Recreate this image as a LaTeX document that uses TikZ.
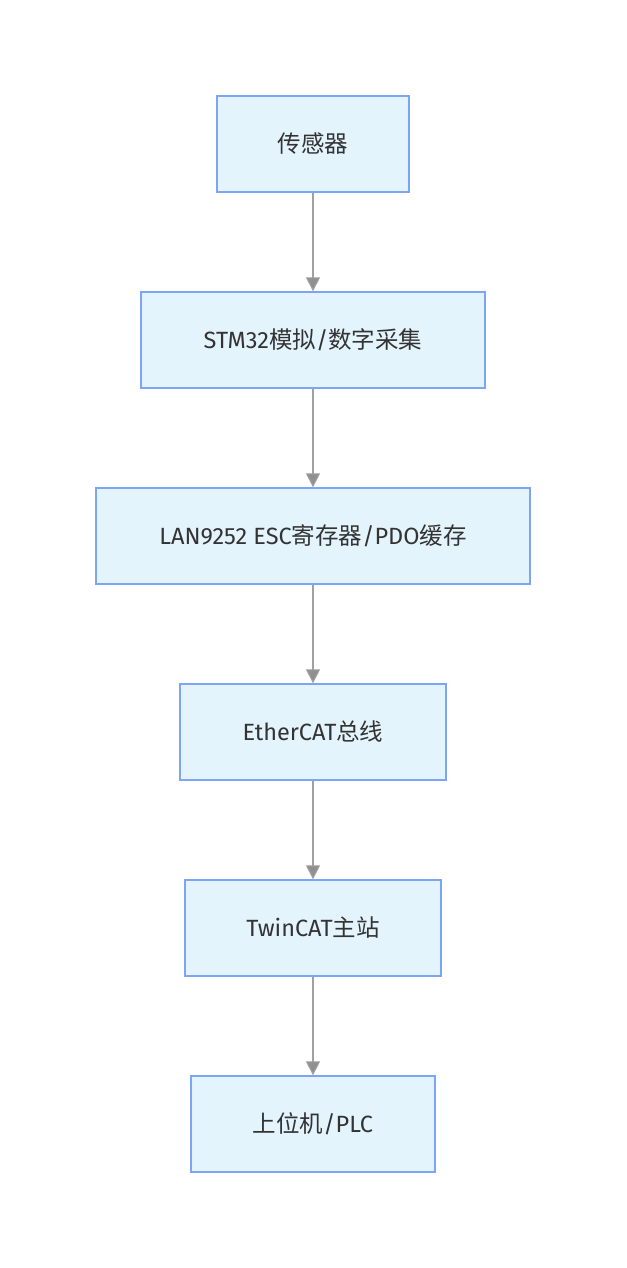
\documentclass[tikz,border=0pt]{standalone}
\usepackage{fontspec}
\usepackage{tikz}
\usetikzlibrary{arrows.meta,positioning}
\setmainfont{Fira Sans}
\newfontfamily\cjk{Noto Sans CJK SC}
\definecolor{flowFill}{RGB}{228,244,253}
\definecolor{flowEdge}{RGB}{124,166,245}
\definecolor{flowArrow}{RGB}{160,160,160}

\begin{document}
\begin{tikzpicture}[x=1pt,y=1pt,
  b/.style={draw=flowEdge,line width=1.3pt,fill=flowFill,align=center,minimum height=96pt,inner xsep=0pt,font=\fontsize{23.5}{28}\selectfont,text=black!80},
  arrow/.style={-{Triangle[length=14pt,width=14pt,fill=flowArrow!90!black]},line width=1.1pt,draw=flowArrow}
]
  \useasboundingbox (0,0) rectangle (626,-1268);
  \node[b,minimum width=192pt] (sensor) at (313,-144) {{\cjk 传感器}};
  \node[b,minimum width=344pt,below=98.7pt of sensor] (stm) {STM32{\cjk 模拟}/{\cjk 数字采集}};
  \node[b,minimum width=434pt,below=98.7pt of stm] (esc) {LAN9252 ESC{\cjk 寄存器}/PDO{\cjk 缓存}};
  \node[b,minimum width=266pt,below=98.7pt of esc] (bus) {EtherCAT{\cjk 总线}};
  \node[b,minimum width=256pt,below=98.7pt of bus] (master) {TwinCAT{\cjk 主站}};
  \node[b,minimum width=244pt,below=98.7pt of master] (host) {{\cjk 上位机}/PLC};
  \draw[arrow] (sensor) -- (stm);
  \draw[arrow] (stm) -- (esc);
  \draw[arrow] (esc) -- (bus);
  \draw[arrow] (bus) -- (master);
  \draw[arrow] (master) -- (host);
\end{tikzpicture}
\end{document}
